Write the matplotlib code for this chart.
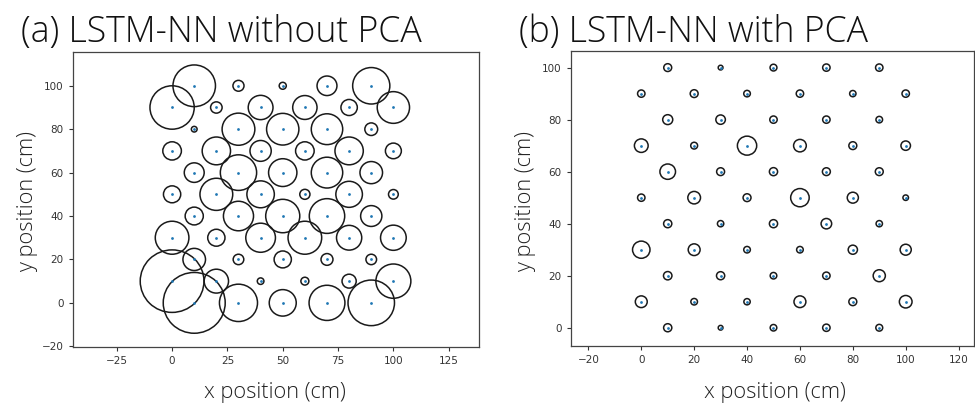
import numpy as np
import matplotlib
matplotlib.use("Agg")
import matplotlib.pyplot as plt
from matplotlib.patches import Circle

# test positions (cm), row by row from the top
pos_x = [10, 30, 50, 70, 90,
         0, 20, 40, 60, 80, 100,
         10, 30, 50, 70, 90,
         0, 20, 40, 60, 80, 100,
         10, 30, 50, 70, 90,
         0, 20, 40, 60, 80, 100,
         10, 30, 50, 70, 90,
         0, 20, 40, 60, 80, 100,
         10, 30, 50, 70, 90,
         0, 20, 40, 60, 80, 100,
         10, 30, 50, 70, 90]
pos_y = [100] * 5 + [90] * 6 + [80] * 5 + [70] * 6 + [60] * 5 + [50] * 6 \
    + [40] * 5 + [30] * 6 + [20] * 5 + [10] * 6 + [0] * 5

# localisation error radius (cm)
err_no_pca = [9.6, 2.5, 1.6, 4.5, 8.4,
              10.0, 2.6, 5.6, 5.5, 3.7, 7.3,
              1.3, 7.4, 7.3, 7.1, 2.9,
              4.2, 6.4, 4.8, 4.2, 6.4, 3.6,
              4.5, 8.2, 6.4, 7.1, 5.1,
              3.9, 7.4, 6.2, 2.3, 6.0, 2.2,
              4.1, 6.8, 7.7, 8.0, 4.8,
              7.6, 3.9, 6.7, 7.6, 5.7, 5.8,
              5.1, 2.4, 3.9, 2.7, 2.4,
              14.4, 5.5, 1.5, 1.8, 3.2, 7.9,
              14.0, 8.6, 6.1, 8.1, 10.5]
err_pca = [1.5, 0.9, 1.3, 1.4, 1.4,
           1.4, 1.5, 1.25, 1.4, 1.2, 1.4,
           1.9, 1.8, 1.4, 1.4, 1.25,
           2.6, 1.3, 3.65, 2.4, 1.5, 1.8,
           2.95, 1.5, 1.55, 1.5, 1.5,
           1.4, 2.4, 1.5, 3.5, 2.1, 1.05,
           1.55, 1.2, 1.55, 2.0, 1.2,
           3.3, 2.25, 1.25, 1.25, 1.75, 2.1,
           1.6, 1.55, 1.25, 1.4, 2.3,
           2.25, 1.25, 1.2, 2.25, 1.5, 2.4,
           1.55, 0.9, 1.25, 1.4, 1.3]

title_font = ["Open Sans", "DejaVu Sans"]

fig = plt.figure(figsize=(9.75, 4.03), dpi=100)

ax1 = fig.add_axes([0.0746, 0.1397, 0.4167, 0.732])
ax2 = fig.add_axes([0.5853, 0.1422, 0.4136, 0.732])


def draw_panel(ax, err):
    for x, y, r in zip(pos_x, pos_y, err):
        ax.add_patch(Circle((x, y), r, fill=False, edgecolor="#1a1a1a", lw=1.1))
    ax.scatter(pos_x, pos_y, s=4, color="#1f77b4", zorder=3, linewidths=0)
    ax.tick_params(labelsize=7.5, length=3, width=0.8, colors="#333333")
    for sp in ax.spines.values():
        sp.set_color("#444444")
        sp.set_linewidth(0.9)


draw_panel(ax1, err_no_pca)
ax1.set_xlim(-44.9, 138.7)
ax1.set_ylim(-20.2, 115.7)
ax1.set_xticks(np.arange(-25, 126, 25))
ax1.set_yticks(np.arange(-20, 101, 20))

draw_panel(ax2, err_pca)
ax2.set_xlim(-26.7, 125.8)
ax2.set_ylim(-6.9, 106.5)
ax2.set_xticks(np.arange(-20, 121, 20))
ax2.set_yticks(np.arange(0, 101, 20))

fig.text(0.022, 0.897, "(a) LSTM-NN without PCA", fontsize=25.7, family=title_font,
         weight="light", va="baseline", ha="left", color="#111111")
fig.text(0.532, 0.897, "(b) LSTM-NN with PCA", fontsize=25.7, family=title_font,
         weight="light", va="baseline", ha="left", color="#111111")

fig.text(0.282, 0.013, "x position (cm)", fontsize=15.7, family=title_font,
         weight="light", ha="center", va="baseline", color="#222222")
fig.text(0.795, 0.013, "x position (cm)", fontsize=15.7, family=title_font,
         weight="light", ha="center", va="baseline", color="#222222")
fig.text(0.028, 0.5, "y position (cm)", fontsize=15.7, family=title_font,
         weight="light", rotation=90, ha="center", va="center", color="#222222")
fig.text(0.539, 0.5, "y position (cm)", fontsize=15.7, family=title_font,
         weight="light", rotation=90, ha="center", va="center", color="#222222")

fig.savefig("out.png", dpi=100)
